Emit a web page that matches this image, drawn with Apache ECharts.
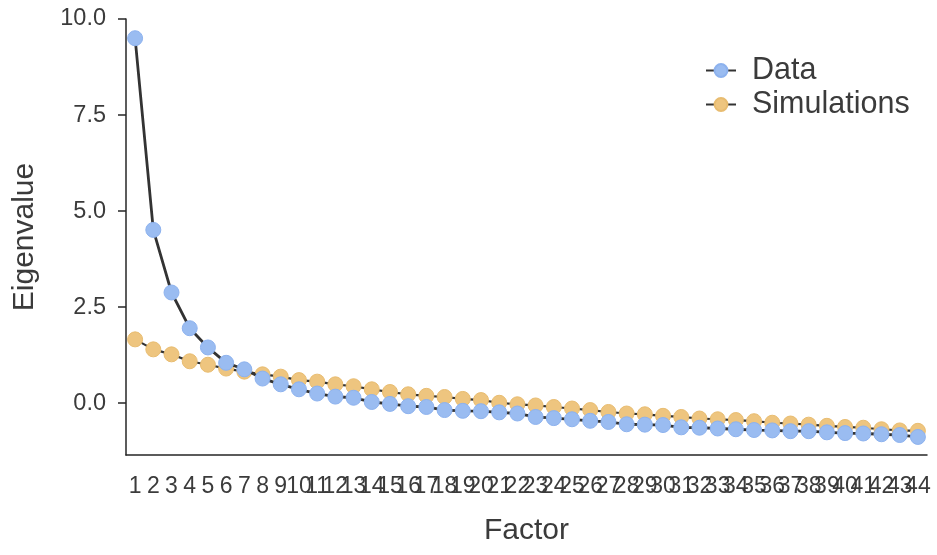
<!DOCTYPE html>
<html>
<head>
<meta charset="utf-8">
<script src="https://cdn.jsdelivr.net/npm/echarts@6/dist/echarts.min.js"></script>
<style>html,body{margin:0;padding:0;background:#fff}#c{width:937px;height:555px}</style>
</head>
<body>
<div id="c"></div>
<script>
const factors = Array.from({length: 44}, (_, i) => String(i + 1));
const dataEigen = [9.50, 4.51, 2.88, 1.95, 1.45, 1.05, 0.88, 0.64, 0.49, 0.36, 0.25, 0.17,
  0.14, 0.03, -0.02, -0.08, -0.10, -0.18, -0.20, -0.21, -0.24, -0.27, -0.36, -0.39, -0.42, -0.46, -0.49, -0.55,
  -0.56, -0.57, -0.63, -0.64, -0.66, -0.68, -0.70, -0.71, -0.73, -0.73, -0.76, -0.78, -0.79, -0.81, -0.83, -0.88];
const simEigen = [1.66, 1.40, 1.27, 1.09, 1.00, 0.90, 0.82, 0.75, 0.69, 0.60, 0.56, 0.49,
  0.44, 0.36, 0.29, 0.23, 0.19, 0.16, 0.11, 0.08, 0.01, -0.03, -0.06, -0.10, -0.14, -0.18, -0.23, -0.27,
  -0.29, -0.33, -0.36, -0.40, -0.42, -0.44, -0.47, -0.51, -0.53, -0.56, -0.59, -0.62, -0.64, -0.68, -0.71, -0.72];
const yTicks = [0, 2.5, 5, 7.5, 10];

const font = '"Liberation Sans", Arial, sans-serif';
const txt = '#3b3b3b';
const chart = echarts.init(document.getElementById('c'));
chart.setOption({
  animation: false,
  grid: {left: 126, right: 10, top: 19, bottom: 100, containLabel: false},
  legend: {
    left: 700, top: 50, orient: 'vertical', itemWidth: 30, itemHeight: 16, itemGap: 3,
    textStyle: {fontFamily: font, fontSize: 30.5, color: txt, padding: [0, 0, 0, 11]},
    data: ['Data', 'Simulations']
  },
  xAxis: {
    type: 'category', data: factors,
    name: 'Factor', nameLocation: 'middle', nameGap: 61,
    nameTextStyle: {fontFamily: font, fontSize: 30, color: txt},
    axisLine: {onZero: false, lineStyle: {color: '#262626', width: 1.5}},
    axisTick: {alignWithLabel: true, length: 7, lineStyle: {color: '#262626', width: 1.5}},
    axisLabel: {interval: 0, fontFamily: font, fontSize: 23, color: txt, margin: 20},
    splitLine: {show: false}
  },
  yAxis: {
    type: 'value', min: -1.35, max: 10,
    name: 'Eigenvalue', nameLocation: 'middle', nameGap: 86,
    nameTextStyle: {fontFamily: font, fontSize: 30, color: txt},
    axisLine: {show: true, lineStyle: {color: '#262626', width: 1.5}},
    axisTick: {show: true, length: 8, customValues: yTicks, lineStyle: {color: '#262626', width: 1.5}},
    axisLabel: {fontFamily: font, fontSize: 23.5, color: txt, margin: 20, customValues: yTicks,
      formatter: v => v.toFixed(1)},
    splitLine: {show: false}
  },
  series: [
    {
      name: 'Simulations', type: 'line', data: simEigen, symbol: 'circle', symbolSize: 15,
      lineStyle: {color: '#333333', width: 2.2},
      itemStyle: {color: '#eec57f', borderColor: '#e8bc70', borderWidth: 1},
      z: 2
    },
    {
      name: 'Data', type: 'line', data: dataEigen, symbol: 'circle', symbolSize: 15,
      lineStyle: {color: '#333333', width: 2.8},
      itemStyle: {color: '#9abcf1', borderColor: '#8db2ee', borderWidth: 1},
      z: 3
    }
  ]
});
</script>
</body>
</html>
